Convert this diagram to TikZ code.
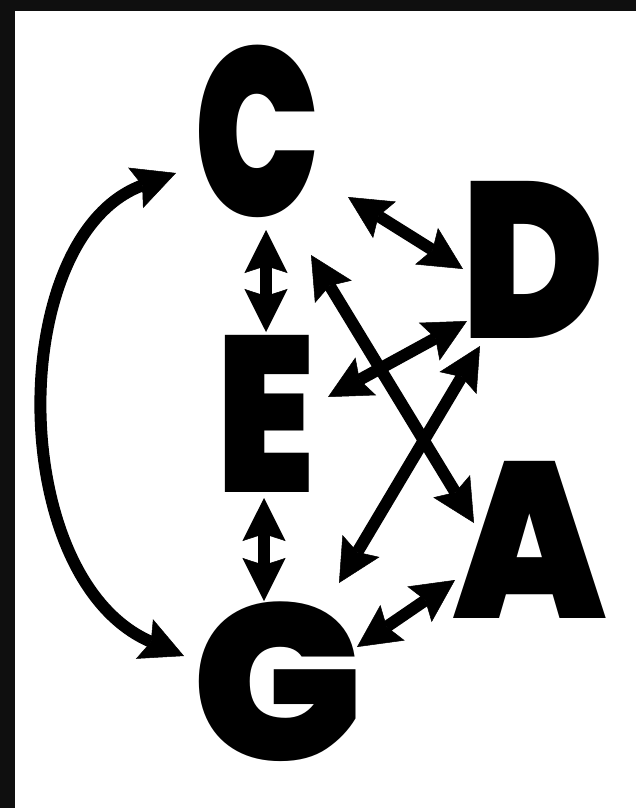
\documentclass[tikz,border=0pt]{standalone}
\usepackage{fontspec}
\usetikzlibrary{arrows.meta,calc}
\IfFontExistsTF{Poppins Black}
  {\newfontfamily\notefont{Poppins Black}}
  {\newfontfamily\notefont{Poppins}[FakeBold=3]}
\definecolor{framegray}{HTML}{0F0F0F}
\tikzset{
  note/.style={font=\notefont\fontsize{222}{222}\selectfont, inner sep=0pt, anchor=base},
  link/.style={line width=12pt, {Stealth[length=43pt, width=43pt, inset=7pt, line width=0.5pt]}-{Stealth[length=43pt, width=43pt, inset=7pt, line width=0.5pt]}}
}
\begin{document}
\begin{tikzpicture}[x=1pt, y=-1pt]
	\fill[white] (0,0) rectangle (636,808);
	\fill[framegray] (0,0) rectangle (636,11);
	\fill[framegray] (0,0) rectangle (15,808);
	\useasboundingbox (0,0) rectangle (636,808);
	% the five notes
	\node[note, xscale=0.75, yscale=1.08] (c) at (257,216) {C};
	\node[note, xscale=0.87] (d) at (533,338) {D};
	\node[note, xscale=0.8] (e) at (266,492) {E};
	\node[note, xscale=0.89] (a) at (530,618) {A};
	\node[note, xscale=1.02] (g) at (278,760) {G};
	% links
	\draw[link] ($(c.base)+(91,-19)$) -- ($(d.base)+(-70,-69)$);
	\draw[link] ($(c.base)+(9,14)$) -- ($(e.base)+(0,-160)$);
	\draw[link] ($(e.base)+(62,-95)$) -- ($(d.base)+(-66,-17)$);
	\draw[link] ($(c.base)+(54,39)$) -- ($(a.base)+(-56,-95)$);
	\draw[link] ($(d.base)+(-53,8)$) -- ($(g.base)+(61,-177)$);
	\draw[link] ($(g.base)+(79,-113)$) -- ($(a.base)+(-75,-38)$);
	\draw[link] ($(e.base)+(-2,6)$) -- ($(g.base)+(-14,-159)$);
	\draw[link] ($(c.base)+(-81,-43)$) .. controls (5,236) and (5,579) .. ($(g.base)+(-94,-104)$);
\end{tikzpicture}
\end{document}
